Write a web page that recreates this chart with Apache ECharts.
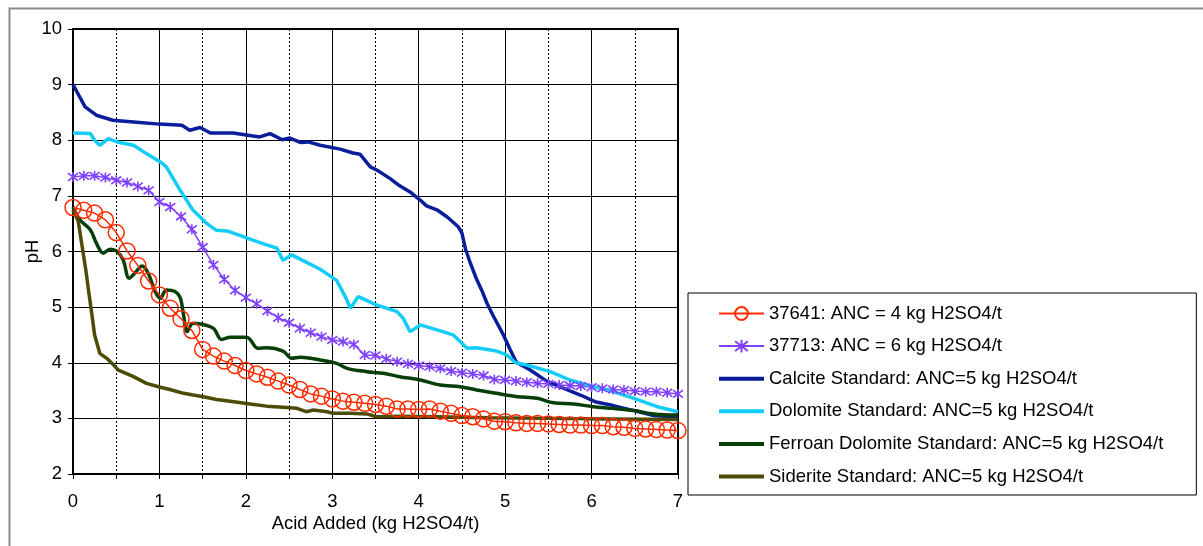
<!DOCTYPE html>
<html>
<head>
<meta charset="utf-8">
<script src="https://cdn.jsdelivr.net/npm/echarts@6/dist/echarts.min.js"></script>
<style>
  html, body { margin: 0; padding: 0; background: #fff; }
  #chart { width: 1203px; height: 546px; }
</style>
</head>
<body>
<div id="chart"></div>
<script>
// Acid added (kg H2SO4/t) for the two sample titrations
const sampleX = [0, 0.125, 0.25, 0.375, 0.5, 0.625, 0.75, 0.875, 1, 1.125, 1.25, 1.375, 1.5, 1.625, 1.75, 1.875,
  2, 2.125, 2.25, 2.375, 2.5, 2.625, 2.75, 2.875, 3, 3.125, 3.25, 3.375, 3.5, 3.625, 3.75, 3.875,
  4, 4.125, 4.25, 4.375, 4.5, 4.625, 4.75, 4.875, 5, 5.125, 5.25, 5.375, 5.5, 5.625, 5.75, 5.875,
  6, 6.125, 6.25, 6.375, 6.5, 6.625, 6.75, 6.875, 7];

// pH of sample 37641
const ph37641 = [6.79, 6.74, 6.69, 6.57, 6.34, 6.01, 5.75, 5.47, 5.22, 4.98, 4.79, 4.58, 4.24, 4.12, 4.03, 3.95,
  3.86, 3.80, 3.74, 3.67, 3.60, 3.52, 3.44, 3.40, 3.35, 3.31, 3.29, 3.27, 3.25, 3.22, 3.17, 3.17,
  3.16, 3.17, 3.13, 3.09, 3.05, 3.03, 2.99, 2.95, 2.94, 2.92, 2.91, 2.91, 2.90, 2.89, 2.88, 2.88,
  2.87, 2.87, 2.85, 2.84, 2.82, 2.81, 2.80, 2.79, 2.78];

// pH of sample 37713
const ph37713 = [7.34, 7.36, 7.36, 7.33, 7.28, 7.24, 7.17, 7.10, 6.89, 6.80, 6.63, 6.40, 6.08, 5.76, 5.50, 5.30,
  5.17, 5.06, 4.93, 4.81, 4.72, 4.62, 4.54, 4.47, 4.41, 4.38, 4.33, 4.14, 4.13, 4.07, 4.02, 3.98,
  3.95, 3.93, 3.90, 3.85, 3.82, 3.80, 3.77, 3.70, 3.69, 3.67, 3.65, 3.63, 3.62, 3.60, 3.59, 3.58,
  3.56, 3.54, 3.52, 3.51, 3.49, 3.48, 3.48, 3.46, 3.44];

// Standard mineral titrations: [acid added, pH]
const calcite = [[0, 9.0], [0.07, 8.8], [0.14, 8.6], [0.27, 8.45], [0.46, 8.36], [0.7, 8.33], [1.0, 8.29],
  [1.26, 8.27], [1.35, 8.18], [1.47, 8.23], [1.59, 8.13], [1.85, 8.13], [2.16, 8.06], [2.28, 8.12],
  [2.42, 8.01], [2.51, 8.04], [2.63, 7.96], [2.72, 7.97], [2.86, 7.91], [3.09, 7.84], [3.24, 7.77],
  [3.32, 7.75], [3.44, 7.52], [3.52, 7.46], [3.67, 7.31], [3.78, 7.18], [3.90, 7.07], [4.02, 6.92],
  [4.09, 6.82], [4.21, 6.75], [4.33, 6.62], [4.46, 6.44], [4.50, 6.33], [4.54, 6.05], [4.60, 5.78],
  [4.67, 5.50], [4.73, 5.30], [4.79, 5.07], [4.86, 4.85], [4.98, 4.50], [5.06, 4.23], [5.13, 4.01],
  [5.29, 3.87], [5.48, 3.67], [5.68, 3.54], [5.87, 3.42], [6.04, 3.30], [6.25, 3.23], [6.49, 3.14],
  [6.72, 3.05], [7.0, 3.02]];

const dolomite = [[0, 8.13], [0.2, 8.12], [0.25, 8.0], [0.31, 7.91], [0.41, 8.03], [0.51, 7.97], [0.7, 7.91],
  [0.85, 7.76], [1.01, 7.61], [1.08, 7.52], [1.24, 7.10], [1.39, 6.74], [1.55, 6.50], [1.66, 6.38],
  [1.78, 6.37], [1.93, 6.29], [2.09, 6.20], [2.24, 6.12], [2.36, 6.06], [2.43, 5.84], [2.53, 5.94],
  [2.72, 5.79], [2.86, 5.68], [3.05, 5.48], [3.15, 5.19], [3.21, 4.98], [3.30, 5.19], [3.51, 5.04],
  [3.75, 4.92], [3.82, 4.80], [3.90, 4.56], [4.02, 4.68], [4.40, 4.50], [4.56, 4.26], [4.67, 4.27],
  [4.90, 4.21], [5.02, 4.14], [5.12, 4.00], [5.25, 3.96], [5.52, 3.84], [5.75, 3.69], [5.95, 3.60],
  [6.25, 3.48], [6.49, 3.36], [6.76, 3.21], [7.0, 3.12]];

const ferroanDolomite = [[0, 6.80], [0.08, 6.57], [0.2, 6.39], [0.27, 6.15], [0.35, 5.97], [0.43, 6.04],
  [0.51, 6.0], [0.58, 5.85], [0.65, 5.52], [0.72, 5.62], [0.80, 5.74], [0.87, 5.61], [0.95, 5.28],
  [1.01, 5.16], [1.08, 5.31], [1.18, 5.28], [1.24, 5.17], [1.28, 4.85], [1.32, 4.56], [1.39, 4.71],
  [1.55, 4.67], [1.63, 4.61], [1.72, 4.42], [1.82, 4.46], [2.01, 4.46], [2.14, 4.26], [2.24, 4.27],
  [2.43, 4.21], [2.53, 4.08], [2.63, 4.10], [2.86, 4.05], [3.05, 3.99], [3.17, 3.90], [3.40, 3.84],
  [3.59, 3.81], [3.78, 3.75], [4.02, 3.69], [4.25, 3.60], [4.48, 3.57], [4.67, 3.51], [4.90, 3.45],
  [5.14, 3.39], [5.37, 3.36], [5.56, 3.28], [5.79, 3.26], [6.02, 3.21], [6.25, 3.18], [6.49, 3.14],
  [6.72, 3.08], [7.0, 3.06]];

const siderite = [[0, 6.75], [0.06, 6.55], [0.10, 6.15], [0.15, 5.65], [0.18, 5.30], [0.22, 4.85],
  [0.25, 4.50], [0.31, 4.17], [0.39, 4.08], [0.47, 3.96], [0.52, 3.87], [0.70, 3.75], [0.85, 3.63],
  [1.01, 3.56], [1.12, 3.52], [1.28, 3.45], [1.39, 3.42], [1.51, 3.39], [1.66, 3.34], [1.86, 3.30],
  [2.05, 3.26], [2.24, 3.22], [2.43, 3.20], [2.59, 3.18], [2.70, 3.12], [2.78, 3.15], [2.94, 3.12],
  [3.01, 3.09], [3.21, 3.09], [3.40, 3.08], [3.51, 3.03], [3.78, 3.04], [4.2, 3.03], [4.8, 3.01],
  [5.5, 3.0], [6.2, 2.99], [7.0, 2.98]];

const seriesNames = [
  '37641: ANC = 4 kg H2SO4/t',
  '37713: ANC = 6 kg H2SO4/t',
  'Calcite Standard: ANC=5 kg H2SO4/t',
  'Dolomite Standard: ANC=5 kg H2SO4/t',
  'Ferroan Dolomite Standard: ANC=5 kg H2SO4/t',
  'Siderite Standard: ANC=5 kg H2SO4/t'
];

const FONT = '"Liberation Sans", Arial, sans-serif';
const FS = 18.5;
const pairs = (xs, ys) => xs.map((x, i) => [x, ys[i]]);
// star marker: vertical stroke crossed by an X
const starPath = 'path://M5,0L5,10M0.7,1.2L9.3,8.8M0.7,8.8L9.3,1.2';
// plain bar used as the legend key of the unmarked lines
const barIcon = 'path://M0,0H45V4H0Z';

const chart = echarts.init(document.getElementById('chart'), null, { renderer: 'canvas' });

const solidLine = (name, data, color, smooth) => ({
  name, type: 'line', data, showSymbol: false, symbol: 'none', smooth: smooth || false,
  lineStyle: { color, width: 3.5 }, itemStyle: { color }
});

chart.setOption({
  animation: false,
  backgroundColor: '#fff',
  graphic: [{
    type: 'rect', left: 7, top: 6, silent: true,
    shape: { x: 0, y: 0, width: 1260, height: 600 },
    style: { fill: 'none', stroke: '#8a8a8a', lineWidth: 2 }
  }],
  grid: {
    left: 73, top: 29, width: 605, height: 445,
    show: true, borderColor: '#000', borderWidth: 2, backgroundColor: 'transparent'
  },
  legend: {
    orient: 'vertical', left: 688, top: 293,
    padding: [11, 33, 9, 30],
    itemWidth: 45, itemHeight: 16, itemGap: 13.6,
    borderColor: '#000', borderWidth: 1,
    backgroundColor: '#fff',
    textStyle: { fontFamily: FONT, fontSize: FS, color: '#000', lineHeight: 16 },
    data: [
      { name: seriesNames[0] },
      { name: seriesNames[1] },
      { name: seriesNames[2], icon: barIcon },
      { name: seriesNames[3], icon: barIcon },
      { name: seriesNames[4], icon: barIcon },
      { name: seriesNames[5], icon: barIcon }
    ]
  },
  xAxis: {
    type: 'value', min: 0, max: 7, interval: 1,
    name: 'Acid Added (kg H2SO4/t)', nameLocation: 'middle', nameGap: 40, nameMoveOverlap: false,
    nameTextStyle: { fontFamily: FONT, fontSize: FS, color: '#000' },
    axisLine: { show: true, onZero: false, lineStyle: { color: '#000', width: 2 } },
    axisTick: { show: true, inside: false, length: 5, lineStyle: { color: '#000', width: 1 } },
    minorTick: { show: true, splitNumber: 2, length: 5, lineStyle: { color: '#000', width: 1 } },
    axisLabel: { fontFamily: FONT, fontSize: FS, color: '#000', margin: 18 },
    splitLine: { show: true, lineStyle: { color: '#000', width: 1 } },
    minorSplitLine: { show: true, lineStyle: { color: '#000', width: 1, type: [2, 2] } }
  },
  yAxis: {
    type: 'value', min: 2, max: 10, interval: 1,
    name: 'pH', nameLocation: 'middle', nameGap: 31, nameMoveOverlap: false,
    nameTextStyle: { fontFamily: FONT, fontSize: FS, color: '#000' },
    axisLine: { show: true, onZero: false, lineStyle: { color: '#000', width: 2 } },
    axisTick: { show: true, inside: false, length: 5, lineStyle: { color: '#000', width: 1 } },
    axisLabel: { fontFamily: FONT, fontSize: FS, color: '#000', margin: 11 },
    splitLine: { show: true, lineStyle: { color: '#000', width: 1 } }
  },
  series: [
    {
      name: seriesNames[0], type: 'line', data: pairs(sampleX, ph37641),
      symbol: 'circle', symbolSize: 16, showSymbol: true,
      lineStyle: { color: '#ff2a00', width: 1.5 },
      itemStyle: { color: 'rgba(255,255,255,0)', borderColor: '#ff2a00', borderWidth: 1.5 },
      z: 4
    },
    {
      name: seriesNames[1], type: 'line', data: pairs(sampleX, ph37713),
      symbol: starPath, symbolSize: 10, showSymbol: true,
      lineStyle: { color: '#7f40ff', width: 1.5 },
      itemStyle: { color: '#7f40ff', borderColor: '#7f40ff', borderWidth: 1.6 },
      z: 3
    },
    solidLine(seriesNames[2], calcite, '#0a1e9c'),
    solidLine(seriesNames[3], dolomite, '#14ccf8'),
    solidLine(seriesNames[4], ferroanDolomite, '#073f08', 0.35),
    solidLine(seriesNames[5], siderite, '#4d4b05')
  ]
});
</script>
</body>
</html>
